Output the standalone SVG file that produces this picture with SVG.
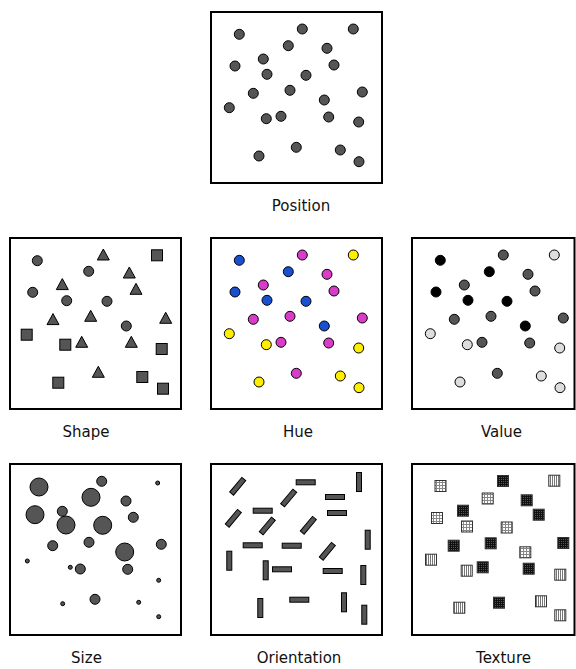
<svg xmlns="http://www.w3.org/2000/svg" width="576" height="669" viewBox="0 0 576 669">
<style>
.box{fill:#fff;stroke:#000;stroke-width:2}
.lbl{font-family:"DejaVu Sans",sans-serif;font-size:15px;fill:#111;text-anchor:middle}
.m{stroke:#000;stroke-width:1}
.g{fill:#555}
.bl{fill:#1a4fd0}
.mg{fill:#d83cc8}
.ye{fill:#ffee00}
.k{fill:#000}
.lt{fill:#ddd}
.t1{fill:url(#pgrid)}
.t2{fill:url(#pdark)}
.t3{fill:url(#pstripe)}
.ts{stroke:#333;stroke-width:1}
</style>
<defs>
<pattern id="pgrid" patternUnits="userSpaceOnUse" width="3" height="3">
<rect width="3" height="3" fill="#fff"/>
<path d="M0.5,0V3M0,0.5H3" stroke="#888" stroke-width="1"/>
</pattern>
<pattern id="pdark" patternUnits="userSpaceOnUse" width="2" height="2">
<rect width="2" height="2" fill="#555"/>
<path d="M0.5,0V2M0,0.5H2" stroke="#111" stroke-width="1"/>
</pattern>
<pattern id="pstripe" patternUnits="userSpaceOnUse" width="2" height="2">
<rect width="2" height="2" fill="#fff"/>
<path d="M0.5,0V2" stroke="#777" stroke-width="1"/>
</pattern>
</defs>

<g id="connectors"></g>

<g id="position" transform="translate(211,12)">
<rect class="box" x="0" y="0" width="171" height="171"/>
<g class="m g">
<circle cx="28.3" cy="22.3" r="5"/><circle cx="91.3" cy="17" r="5"/><circle cx="142.3" cy="17" r="5"/>
<circle cx="77.3" cy="33.7" r="5"/><circle cx="116" cy="36.3" r="5"/><circle cx="52.3" cy="47" r="5"/>
<circle cx="24" cy="54" r="5"/><circle cx="123" cy="53" r="5"/><circle cx="56" cy="62.3" r="5"/>
<circle cx="95" cy="63.3" r="5"/><circle cx="79" cy="78.3" r="5"/><circle cx="42.3" cy="81.3" r="5"/>
<circle cx="151.3" cy="80" r="5"/><circle cx="113.3" cy="88" r="5"/><circle cx="18.3" cy="95.7" r="5"/>
<circle cx="55.3" cy="106.7" r="5"/><circle cx="70" cy="104.3" r="5"/><circle cx="117.7" cy="105" r="5"/>
<circle cx="147.7" cy="110" r="5"/><circle cx="85.3" cy="135.3" r="5"/><circle cx="48" cy="144" r="5"/>
<circle cx="129.3" cy="138" r="5"/><circle cx="148" cy="149.7" r="5"/>
</g>
</g>
<text class="lbl" x="301" y="210.5">Position</text>

<g id="shape" transform="translate(10,238)">
<rect class="box" x="0" y="0" width="171" height="171"/>
<g class="m g">
<circle cx="27.3" cy="22.7" r="5"/><circle cx="78.7" cy="33.3" r="5"/><circle cx="22.7" cy="54.3" r="5"/>
<circle cx="56.7" cy="62.7" r="5"/><circle cx="97" cy="63.3" r="5"/><circle cx="116.3" cy="88" r="5"/>
<polygon points="93.3,11 87.3,22 99.3,22"/>
<polygon points="119.3,29 113.3,40 125.3,40"/>
<polygon points="52.3,40.6 46.3,51.6 58.3,51.6"/>
<polygon points="126,45.3 120,56.3 132,56.3"/>
<polygon points="80.7,72.3 74.7,83.3 86.7,83.3"/>
<polygon points="43,75.6 37,86.6 49,86.6"/>
<polygon points="155.7,74.3 149.7,85.3 161.7,85.3"/>
<polygon points="71.7,98.3 65.7,109.3 77.7,109.3"/>
<polygon points="121.3,98.3 115.3,109.3 127.3,109.3"/>
<polygon points="88.3,128.3 82.3,139.3 94.3,139.3"/>
<rect x="141.5" y="11.8" width="11" height="11"/>
<rect x="11.2" y="91.2" width="11" height="11"/>
<rect x="49.8" y="101.2" width="11" height="11"/>
<rect x="146.2" y="105.5" width="11" height="11"/>
<rect x="42.8" y="139.2" width="11" height="11"/>
<rect x="126.8" y="133.5" width="11" height="11"/>
<rect x="147.5" y="145.2" width="11" height="11"/>
</g>
</g>
<text class="lbl" x="86" y="436.5">Shape</text>

<g id="hue" transform="translate(211,238)">
<rect class="box" x="0" y="0" width="171" height="171"/>
<g class="m">
<circle class="bl" cx="28.3" cy="22.3" r="5"/><circle class="mg" cx="91.3" cy="17" r="5"/><circle class="ye" cx="142.3" cy="17" r="5"/>
<circle class="bl" cx="77.3" cy="33.7" r="5"/><circle class="mg" cx="116" cy="36.3" r="5"/><circle class="mg" cx="52.3" cy="47" r="5"/>
<circle class="bl" cx="24" cy="54" r="5"/><circle class="mg" cx="123" cy="53" r="5"/><circle class="bl" cx="56" cy="62.3" r="5"/>
<circle class="bl" cx="95" cy="63.3" r="5"/><circle class="mg" cx="79" cy="78.3" r="5"/><circle class="mg" cx="42.3" cy="81.3" r="5"/>
<circle class="mg" cx="151.3" cy="80" r="5"/><circle class="bl" cx="113.3" cy="88" r="5"/><circle class="ye" cx="18.3" cy="95.7" r="5"/>
<circle class="ye" cx="55.3" cy="106.7" r="5"/><circle class="mg" cx="70" cy="104.3" r="5"/><circle class="mg" cx="117.7" cy="105" r="5"/>
<circle class="ye" cx="147.7" cy="110" r="5"/><circle class="mg" cx="85.3" cy="135.3" r="5"/><circle class="ye" cx="48" cy="144" r="5"/>
<circle class="ye" cx="129.3" cy="138" r="5"/><circle class="ye" cx="148" cy="149.7" r="5"/>
</g>
</g>
<text class="lbl" x="298" y="436.5">Hue</text>

<g id="value" transform="translate(412,238)">
<rect class="box" x="0" y="0" width="162.5" height="171"/>
<g class="m">
<circle class="k" cx="28.3" cy="22.3" r="5"/><circle class="g" cx="91.3" cy="17" r="5"/><circle class="lt" cx="142.3" cy="17" r="5"/>
<circle class="k" cx="77.3" cy="33.7" r="5"/><circle class="g" cx="116" cy="36.3" r="5"/><circle class="g" cx="52.3" cy="47" r="5"/>
<circle class="k" cx="24" cy="54" r="5"/><circle class="g" cx="123" cy="53" r="5"/><circle class="k" cx="56" cy="62.3" r="5"/>
<circle class="k" cx="95" cy="63.3" r="5"/><circle class="g" cx="79" cy="78.3" r="5"/><circle class="g" cx="42.3" cy="81.3" r="5"/>
<circle class="g" cx="151.3" cy="80" r="5"/><circle class="k" cx="113.3" cy="88" r="5"/><circle class="lt" cx="18.3" cy="95.7" r="5"/>
<circle class="lt" cx="55.3" cy="106.7" r="5"/><circle class="g" cx="70" cy="104.3" r="5"/><circle class="g" cx="117.7" cy="105" r="5"/>
<circle class="lt" cx="147.7" cy="110" r="5"/><circle class="g" cx="85.3" cy="135.3" r="5"/><circle class="lt" cx="48" cy="144" r="5"/>
<circle class="lt" cx="129.3" cy="138" r="5"/><circle class="lt" cx="148" cy="149.7" r="5"/>
</g>
</g>
<text class="lbl" x="501.5" y="436.5">Value</text>

<g id="size" transform="translate(10,464)">
<rect class="box" x="0" y="0" width="171" height="171"/>
<g class="m g">
<circle cx="29" cy="23" r="9"/><circle cx="91.7" cy="17.3" r="5"/><circle cx="147.7" cy="19" r="2"/>
<circle cx="81" cy="33.3" r="9"/><circle cx="116" cy="37" r="5"/><circle cx="52.3" cy="47.3" r="5"/>
<circle cx="25" cy="50.7" r="9"/><circle cx="123.3" cy="53.3" r="5"/><circle cx="56" cy="61" r="9"/>
<circle cx="92.7" cy="61.3" r="9"/><circle cx="79" cy="78.3" r="5"/><circle cx="42.7" cy="81.7" r="5"/>
<circle cx="151.3" cy="80.3" r="5"/><circle cx="114.7" cy="88" r="9"/><circle cx="17.3" cy="97" r="2"/>
<circle cx="60.3" cy="103.3" r="2"/><circle cx="70.3" cy="105" r="5"/><circle cx="117.7" cy="105.3" r="5"/>
<circle cx="148.7" cy="116.3" r="2"/><circle cx="85" cy="135.3" r="5"/><circle cx="52.7" cy="139.7" r="2"/>
<circle cx="128.7" cy="138.3" r="2"/><circle cx="148.7" cy="152.7" r="2"/>
</g>
</g>
<text class="lbl" x="86.5" y="662.5">Size</text>

<g id="orientation" transform="translate(211,464)">
<rect class="box" x="0" y="0" width="171" height="171"/>
<g class="m g">
<rect x="17.2" y="19.8" width="19" height="5" transform="rotate(-50 26.7 22.3)"/>
<rect x="68.2" y="31.5" width="19" height="5" transform="rotate(-50 77.7 34)"/>
<rect x="12.8" y="51.8" width="19" height="5" transform="rotate(-50 22.3 54.3)"/>
<rect x="46.8" y="59.5" width="19" height="5" transform="rotate(-50 56.3 62)"/>
<rect x="87.8" y="58.8" width="19" height="5" transform="rotate(-50 97.3 61.3)"/>
<rect x="106.8" y="84.8" width="19" height="5" transform="rotate(-50 116.3 87.3)"/>
<rect x="85.2" y="15.8" width="19" height="5"/>
<rect x="114.5" y="30.5" width="19" height="5"/>
<rect x="42.2" y="44.2" width="19" height="5"/>
<rect x="116.5" y="46.5" width="19" height="5"/>
<rect x="71.2" y="79.2" width="19" height="5"/>
<rect x="32.2" y="78.8" width="19" height="5"/>
<rect x="61.5" y="102.8" width="19" height="5"/>
<rect x="112.2" y="104.5" width="19" height="5"/>
<rect x="78.8" y="133.2" width="19" height="5"/>
<rect x="145.5" y="8.5" width="5" height="19"/>
<rect x="154.2" y="66.2" width="5" height="19"/>
<rect x="15.8" y="87.2" width="5" height="19"/>
<rect x="52.2" y="96.8" width="5" height="19"/>
<rect x="149.8" y="101.5" width="5" height="19"/>
<rect x="46.8" y="134.5" width="5" height="19"/>
<rect x="130.5" y="128.8" width="5" height="19"/>
<rect x="150.8" y="141.2" width="5" height="19"/>
</g>
</g>
<text class="lbl" x="299" y="662.5">Orientation</text>

<g id="texture" transform="translate(412,464)">
<rect class="box" x="0" y="0" width="162.5" height="171"/>
<g class="ts">
<rect class="t1" x="23" y="16.5" width="11" height="11"/>
<rect class="t2" x="85.5" y="11.5" width="11" height="11"/>
<rect class="t3" x="136.8" y="11.2" width="11" height="11"/>
<rect class="t1" x="70.2" y="29" width="11" height="11"/>
<rect class="t2" x="109.2" y="30.8" width="11" height="11"/>
<rect class="t2" x="45.5" y="41.2" width="11" height="11"/>
<rect class="t1" x="19.5" y="48.5" width="11" height="11"/>
<rect class="t2" x="121.2" y="45.2" width="11" height="11"/>
<rect class="t1" x="49.5" y="57" width="11" height="11"/>
<rect class="t1" x="89.2" y="58" width="11" height="11"/>
<rect class="t2" x="73.2" y="73.8" width="11" height="11"/>
<rect class="t2" x="36.2" y="76.2" width="11" height="11"/>
<rect class="t2" x="145.8" y="73.5" width="11" height="11"/>
<rect class="t1" x="107.8" y="82.8" width="11" height="11"/>
<rect class="t3" x="13.5" y="90.2" width="11" height="11"/>
<rect class="t3" x="49.2" y="101.2" width="11" height="11"/>
<rect class="t2" x="65.2" y="97.8" width="11" height="11"/>
<rect class="t2" x="111.2" y="99.2" width="11" height="11"/>
<rect class="t3" x="142.8" y="105.2" width="11" height="11"/>
<rect class="t2" x="81.5" y="133.2" width="11" height="11"/>
<rect class="t3" x="41.8" y="138.2" width="11" height="11"/>
<rect class="t3" x="123.5" y="131.8" width="11" height="11"/>
<rect class="t3" x="142.8" y="145.8" width="11" height="11"/>
</g>
</g>
<text class="lbl" x="503.5" y="662.5">Texture</text>
</svg>
